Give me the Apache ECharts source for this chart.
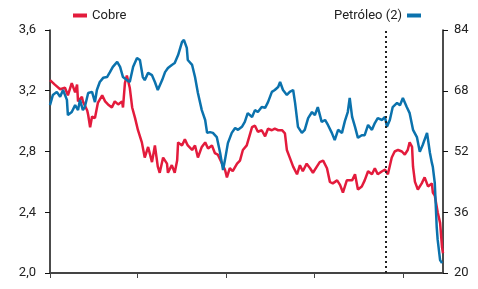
<!DOCTYPE html>
<html>
<head>
<meta charset="utf-8">
<script src="https://cdn.jsdelivr.net/npm/echarts@6/dist/echarts.min.js"></script>
<style>
  html, body { margin: 0; padding: 0; background: #fff; }
  #chart { width: 478px; height: 289px; }
</style>
</head>
<body>
<div id="chart"></div>
<script>
var cobreDates = ['2018-01-01', '2018-01-11', '2018-01-22', '2018-02-01', '2018-02-07', '2018-02-15', '2018-02-22', '2018-02-26', '2018-02-28', '2018-03-08',
  '2018-03-10', '2018-03-19', '2018-03-21', '2018-03-25', '2018-03-29', '2018-04-04', '2018-04-10', '2018-04-19', '2018-04-25', '2018-05-01',
  '2018-05-09', '2018-05-15', '2018-05-22', '2018-05-30', '2018-06-01', '2018-06-05', '2018-06-09', '2018-06-15', '2018-06-20', '2018-06-26',
  '2018-07-02', '2018-07-10', '2018-07-16', '2018-07-23', '2018-07-31', '2018-08-06', '2018-08-12', '2018-08-16', '2018-08-23', '2018-08-31',
  '2018-09-02', '2018-09-10', '2018-09-16', '2018-09-21', '2018-09-23', '2018-10-01', '2018-10-07', '2018-10-13', '2018-10-22', '2018-10-28',
  '2018-11-03', '2018-11-11', '2018-11-18', '2018-11-24', '2018-12-02', '2018-12-08', '2018-12-14', '2018-12-23', '2018-12-29', '2019-01-02',
  '2019-01-08', '2019-01-14', '2019-01-23', '2019-01-29', '2019-02-04', '2019-02-12', '2019-02-23', '2019-03-01', '2019-03-07', '2019-03-15',
  '2019-03-22', '2019-03-28', '2019-04-05', '2019-04-11', '2019-04-18', '2019-04-26', '2019-05-02', '2019-05-06', '2019-05-12', '2019-05-19',
  '2019-05-27', '2019-06-02', '2019-06-08', '2019-06-16', '2019-06-23', '2019-06-29', '2019-07-07', '2019-07-13', '2019-07-20', '2019-07-28',
  '2019-08-03', '2019-08-09', '2019-08-18', '2019-08-24', '2019-08-30', '2019-09-07', '2019-09-18', '2019-09-24', '2019-09-30', '2019-10-08',
  '2019-10-14', '2019-10-21', '2019-10-29', '2019-11-04', '2019-11-10', '2019-11-19', '2019-11-25', '2019-12-01', '2019-12-09', '2019-12-15',
  '2019-12-22', '2019-12-30', '2020-01-05', '2020-01-11', '2020-01-15', '2020-01-20', '2020-01-22', '2020-01-26', '2020-02-01', '2020-02-09',
  '2020-02-15', '2020-02-22', '2020-03-01', '2020-03-03', '2020-03-07', '2020-03-13', '2020-03-18', '2020-03-22', '2020-03-24'];
var cobreValues = [3.27, 3.24, 3.21, 3.22, 3.17, 3.25, 3.19, 3.24, 3.13, 3.16,
  3.13, 3.07, 3.04, 2.96, 3.03, 3.02, 3.12, 3.17, 3.13, 3.11,
  3.09, 3.13, 3.11, 3.13, 3.09, 3.25, 3.30, 3.22, 3.09, 3.02,
  2.94, 2.86, 2.76, 2.83, 2.73, 2.84, 2.70, 2.66, 2.76, 2.72,
  2.66, 2.71, 2.66, 2.74, 2.86, 2.84, 2.88, 2.84, 2.81, 2.84,
  2.76, 2.83, 2.86, 2.82, 2.84, 2.79, 2.78, 2.72, 2.68, 2.63,
  2.69, 2.67, 2.72, 2.74, 2.81, 2.84, 2.96, 2.97, 2.93, 2.94,
  2.90, 2.95, 2.94, 2.95, 2.94, 2.94, 2.92, 2.81, 2.76, 2.70,
  2.65, 2.71, 2.67, 2.72, 2.69, 2.66, 2.70, 2.73, 2.74, 2.69,
  2.60, 2.59, 2.61, 2.58, 2.53, 2.61, 2.61, 2.65, 2.55, 2.57,
  2.61, 2.67, 2.65, 2.69, 2.65, 2.67, 2.68, 2.65, 2.76, 2.80,
  2.81, 2.80, 2.78, 2.81, 2.86, 2.83, 2.70, 2.60, 2.55, 2.59,
  2.63, 2.57, 2.59, 2.53, 2.51, 2.40, 2.33, 2.17, 2.13];

var petroleoDates = ['2018-01-01', '2018-01-07', '2018-01-15', '2018-01-22', '2018-01-28', '2018-02-05', '2018-02-07', '2018-02-15', '2018-02-22', '2018-02-28',
  '2018-03-04', '2018-03-10', '2018-03-14', '2018-03-21', '2018-03-29', '2018-04-04', '2018-04-08', '2018-04-14', '2018-04-21', '2018-04-29',
  '2018-05-05', '2018-05-11', '2018-05-20', '2018-05-26', '2018-06-01', '2018-06-09', '2018-06-15', '2018-06-22', '2018-06-30', '2018-07-06',
  '2018-07-12', '2018-07-16', '2018-07-23', '2018-07-31', '2018-08-06', '2018-08-12', '2018-08-21', '2018-08-27', '2018-09-02', '2018-09-10',
  '2018-09-16', '2018-09-23', '2018-10-01', '2018-10-05', '2018-10-11', '2018-10-13', '2018-10-22', '2018-10-28', '2018-11-03', '2018-11-11',
  '2018-11-18', '2018-11-22', '2018-11-28', '2018-12-04', '2018-12-12', '2018-12-19', '2018-12-25', '2018-12-29', '2019-01-04', '2019-01-12',
  '2019-01-19', '2019-01-25', '2019-02-02', '2019-02-08', '2019-02-14', '2019-02-23', '2019-03-01', '2019-03-07', '2019-03-15', '2019-03-22',
  '2019-03-28', '2019-04-05', '2019-04-11', '2019-04-18', '2019-04-22', '2019-04-28', '2019-05-06', '2019-05-12', '2019-05-19', '2019-05-23',
  '2019-05-29', '2019-06-06', '2019-06-12', '2019-06-19', '2019-06-27', '2019-07-03', '2019-07-09', '2019-07-17', '2019-07-24', '2019-07-30',
  '2019-08-07', '2019-08-13', '2019-08-20', '2019-08-28', '2019-09-03', '2019-09-09', '2019-09-13', '2019-09-18', '2019-09-24', '2019-09-30',
  '2019-10-08', '2019-10-14', '2019-10-21', '2019-10-29', '2019-11-04', '2019-11-10', '2019-11-19', '2019-11-25', '2019-11-29', '2019-12-05',
  '2019-12-11', '2019-12-20', '2019-12-26', '2020-01-01', '2020-01-05', '2020-01-09', '2020-01-15', '2020-01-22', '2020-01-30', '2020-02-05',
  '2020-02-11', '2020-02-20', '2020-02-26', '2020-03-01', '2020-03-03', '2020-03-07', '2020-03-11', '2020-03-13', '2020-03-18', '2020-03-22'];
var petroleoValues = [64.2, 66.9, 67.7, 66.4, 68.2, 65.6, 61.6, 62.4, 64.2, 62.9,
  65.6, 62.9, 63.7, 67.4, 67.7, 65.0, 68.2, 70.3, 71.4, 71.6,
  72.9, 74.3, 75.6, 74.3, 71.6, 70.8, 70.3, 74.3, 76.6, 76.1,
  71.6, 70.8, 72.7, 72.1, 70.3, 68.2, 70.8, 72.9, 74.0, 74.8,
  75.3, 77.4, 80.8, 81.4, 79.3, 76.1, 74.8, 71.6, 67.4, 62.9,
  60.3, 56.9, 57.1, 56.9, 55.8, 51.6, 47.1, 49.8, 54.2, 56.9,
  58.2, 57.7, 58.5, 59.8, 62.1, 61.1, 62.9, 62.4, 63.7, 63.5,
  65.0, 67.7, 68.2, 69.0, 70.3, 68.2, 66.9, 67.7, 68.2, 64.8,
  58.5, 56.9, 57.7, 60.8, 62.4, 61.6, 63.7, 59.8, 60.3, 59.0,
  56.9, 55.0, 57.7, 56.9, 60.0, 62.4, 66.1, 61.1, 58.5, 55.6,
  56.3, 56.3, 59.0, 57.7, 59.5, 60.8, 60.3, 61.1, 58.5, 60.3,
  63.7, 64.8, 64.2, 66.1, 66.4, 63.7, 62.1, 57.7, 55.8, 51.9,
  53.7, 56.9, 51.6, 49.0, 47.9, 43.7, 32.1, 28.7, 23.4, 22.6];

var xTicks = ['2018-01-01', '2018-07-01', '2019-01-01', '2019-07-01', '2020-01-01'];
var eventDate = '2019-11-27';

function pairs(dates, values) {
  var res = [];
  for (var i = 0; i < dates.length; i++) {
    res.push([dates[i], values[i]]);
  }
  return res;
}

var chart = echarts.init(document.getElementById('chart'), null, { renderer: 'canvas' });
var red = '#e31b3c';
var blue = '#0b72ad';
var font = '"Liberation Sans Narrow", "Roboto", sans-serif';

var option = {
  animation: false,
  textStyle: { fontFamily: font },
  grid: { left: 50, right: 35, top: 30, bottom: 16 },
  legend: [{
    data: ['Cobre'],
    left: 68,
    top: 4,
    itemWidth: 14,
    itemHeight: 4,
    itemGap: 4,
    icon: 'rect',
    textStyle: { fontSize: 13, color: '#222', fontFamily: font }
  }, {
    data: ['Petróleo (2)'],
    right: 52,
    top: 4,
    align: 'right',
    itemWidth: 14,
    itemHeight: 4,
    icon: 'rect',
    textStyle: { fontSize: 13, color: '#222', fontFamily: font }
  }],
  xAxis: {
    type: 'time',
    min: '2018-01-01',
    max: '2020-03-24',
    axisLine: { onZero: false, lineStyle: { color: '#444', width: 2 } },
    axisTick: {
      show: true,
      length: 5,
      customValues: xTicks.map(function (d) { return +new Date(d); }),
      lineStyle: { color: '#444', width: 1 }
    },
    axisLabel: { show: false },
    splitLine: { show: false }
  },
  yAxis: [{
    type: 'value',
    min: 2,
    max: 3.6,
    interval: 0.4,
    axisLine: { show: true, lineStyle: { color: '#111', width: 1.5 } },
    axisTick: { show: true, length: 5, lineStyle: { color: '#111' } },
    axisLabel: {
      color: '#222',
      fontSize: 13,
      margin: 14,
      fontFamily: font,
      formatter: function (v) { return v.toFixed(1).replace('.', ','); }
    },
    splitLine: { show: false }
  }, {
    type: 'value',
    min: 20,
    max: 84,
    interval: 16,
    position: 'right',
    axisLine: { show: true, lineStyle: { color: '#111', width: 1.5 } },
    axisTick: { show: true, length: 5, lineStyle: { color: '#111' } },
    axisLabel: { color: '#222', fontSize: 13, margin: 11, fontFamily: font },
    splitLine: { show: false }
  }],
  series: [{
    name: 'Cobre',
    type: 'line',
    yAxisIndex: 0,
    showSymbol: false,
    color: red,
    lineStyle: { width: 2.5, color: red },
    data: pairs(cobreDates, cobreValues),
    markLine: {
      silent: true,
      symbol: 'none',
      label: { show: false },
      lineStyle: { color: '#222', type: [2, 3], width: 2 },
      data: [{ xAxis: eventDate }]
    }
  }, {
    name: 'Petróleo (2)',
    type: 'line',
    yAxisIndex: 1,
    showSymbol: false,
    color: blue,
    lineStyle: { width: 2.5, color: blue },
    data: pairs(petroleoDates, petroleoValues)
  }]
};
chart.setOption(option);
</script>
</body>
</html>
